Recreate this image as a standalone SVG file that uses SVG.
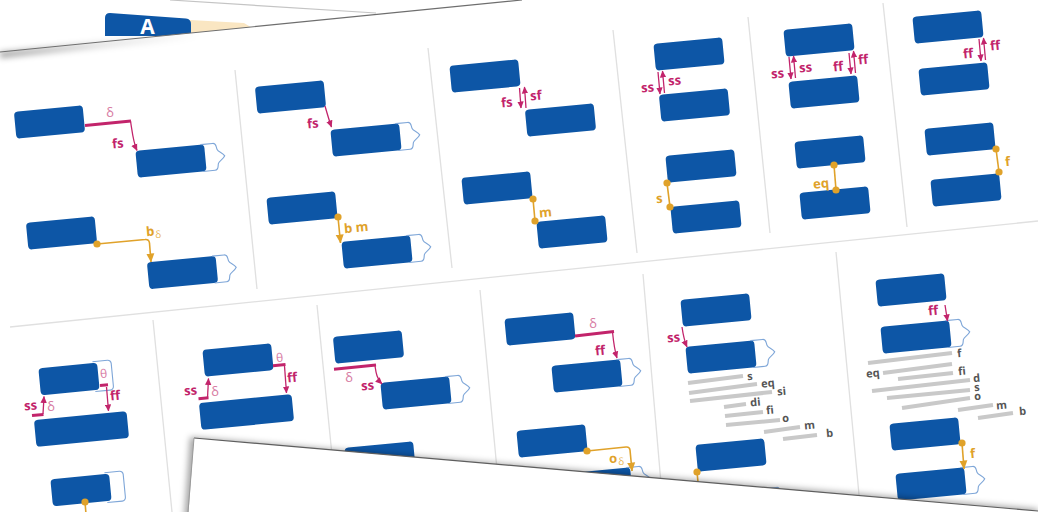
<svg xmlns="http://www.w3.org/2000/svg" xmlns:xlink="http://www.w3.org/1999/xlink" width="1038" height="512" viewBox="0 0 1038 512">
<style>
.bx{fill:#0D56A6}
.wv{fill:none;stroke:#7EA6D8;stroke-width:1.1}
.dv{stroke:#E0E0E0;stroke-width:1.3;fill:none}
.pk{stroke:#C2246B;stroke-width:1.3;fill:none}
.pk3{stroke:#C2246B;stroke-width:3;fill:none}
.gd{stroke:#E0A22A;stroke-width:1.6;fill:none}
.dot{fill:#E0A22A}
.bar{stroke:#C9C9C9;stroke-width:4;fill:none}
text{font-family:"Open Sans","Liberation Sans",sans-serif;transform-box:fill-box;transform-origin:center;transform:rotate(-5.5deg)}
.p{fill:#C2246B;font-size:13px;font-weight:700}
.dl{fill:#D77BA3;font-size:13px;font-weight:400}
.g{fill:#E0A22A;font-size:13px;font-weight:700}
.gs{fill:#E9B95C;font-size:10px;font-weight:400}
.k{fill:#555;font-size:11px;font-weight:700}
.tab{fill:#fff;font-size:21px;font-weight:700;transform:none}
</style>
<defs>
<rect id="b" x="-34.5" y="-13.5" width="69" height="27" rx="4"/>
<rect id="bs" x="-29.5" y="-13.5" width="59" height="27" rx="4"/>
<rect id="bw" x="-46.5" y="-13.5" width="93" height="27" rx="4"/>
<path id="wave" d="M31,-13.5 H43 c4,0 3,4 4,6.5 c1,2.5 5,3.5 7,7 c-2,3.5 -6,4.5 -7,7 c-1,2.5 0,6.5 -4,6.5 H31"/>
<path id="ox" d="M25,-15 H40 a3.5,3.5 0 0 1 3.5,3.5 V11.5 a3.5,3.5 0 0 1 -3.5,3.5 H25"/>
<marker id="ap" markerUnits="userSpaceOnUse" markerWidth="7" markerHeight="7" viewBox="0 0 7 7" refX="6.5" refY="3.5" orient="auto"><path d="M0,0.3 L7,3.5 L0,6.7z" fill="#C2246B"/></marker>
<marker id="ag" markerUnits="userSpaceOnUse" markerWidth="9" markerHeight="9" viewBox="0 0 9 9" refX="8.5" refY="4.5" orient="auto"><path d="M0,0.5 L9,4.5 L0,8.5z" fill="#E0A22A"/></marker>
<filter id="blur" x="-20%" y="-50%" width="140%" height="200%"><feGaussianBlur stdDeviation="3"/></filter>
<linearGradient id="edgeg" x1="0" y1="0" x2="1" y2="0"><stop offset="0" stop-color="#000" stop-opacity="0.45"/><stop offset="0.5" stop-color="#000" stop-opacity="0.15"/><stop offset="1" stop-color="#000" stop-opacity="0"/></linearGradient>
</defs>

<!-- background sheet with tab -->
<rect x="0" y="0" width="1038" height="512" fill="#FFFFFF"/>
<line x1="170" y1="0" x2="376" y2="13" stroke="#C4C4C4" stroke-width="1.2"/>
<g id="tab-a">
<path d="M190,20 L244,23 L254,29 L254,42 L190,42 Z" fill="#FAE6C2"/>
<path d="M110,13 L186,18.5 Q191,19 191,24 L191,36 L105,36 L105,18 Q105,13 110,13 Z" fill="#0D56A6"/>
<text class="tab" x="147.5" y="34" text-anchor="middle">A</text>
</g>

<!-- main sheet -->
<polygon points="0,52 522,0 1038,0 1038,512 0,512" fill="#FFFFFF"/>
<path d="M0,55 L200,35" stroke="url(#edgeg)" stroke-width="5" fill="none" filter="url(#blur)"/>
<line x1="0" y1="52" x2="522" y2="0" stroke="#6E6E6E" stroke-width="1.2"/>

<!-- dividers -->
<g id="dividers">
<line class="dv" x1="10" y1="327" x2="1038" y2="221"/>
<line class="dv" x1="235" y1="70" x2="257" y2="289"/>
<line class="dv" x1="428" y1="48" x2="452" y2="268"/>
<line class="dv" x1="613" y1="30" x2="637" y2="253"/>
<line class="dv" x1="748" y1="17" x2="770" y2="233"/>
<line class="dv" x1="883" y1="3" x2="907" y2="227"/>
<line class="dv" x1="153" y1="320" x2="172" y2="512"/>
<line class="dv" x1="317" y1="305" x2="333" y2="465"/>
<line class="dv" x1="480" y1="290" x2="498" y2="480"/>
<line class="dv" x1="643" y1="274" x2="662" y2="495"/>
<line class="dv" x1="836" y1="252" x2="860" y2="505"/>
</g>

<!-- nodes, strip 1 -->
<g id="B1"><use href="#b" class="bx" transform="translate(49.5 122) rotate(-5.5)"/></g>
<g id="B2"><use href="#b" class="bx" transform="translate(171 161) rotate(-5.5)"/><use href="#wave" class="wv" transform="translate(171 161) rotate(-5.5)"/></g>
<g id="B3"><use href="#b" class="bx" transform="translate(61.5 233) rotate(-5.5)"/></g>
<g id="B4"><use href="#b" class="bx" transform="translate(182.5 272.5) rotate(-5.5)"/><use href="#wave" class="wv" transform="translate(182.5 272.5) rotate(-5.5)"/></g>
<g id="C1"><use href="#b" class="bx" transform="translate(290.5 97) rotate(-5.5)"/></g>
<g id="C2"><use href="#b" class="bx" transform="translate(366 140) rotate(-5.5)"/><use href="#wave" class="wv" transform="translate(366 140) rotate(-5.5)"/></g>
<g id="C3"><use href="#b" class="bx" transform="translate(302 208) rotate(-5.5)"/></g>
<g id="C4"><use href="#b" class="bx" transform="translate(377 252) rotate(-5.5)"/><use href="#wave" class="wv" transform="translate(377 252) rotate(-5.5)"/></g>
<g id="D1"><use href="#b" class="bx" transform="translate(485 76) rotate(-5.5)"/></g>
<g id="D2"><use href="#b" class="bx" transform="translate(560.5 120) rotate(-5.5)"/></g>
<g id="D3"><use href="#b" class="bx" transform="translate(497 188) rotate(-5.5)"/></g>
<g id="D4"><use href="#b" class="bx" transform="translate(572 232) rotate(-5.5)"/></g>
<g id="E1"><use href="#b" class="bx" transform="translate(689 54) rotate(-5.5)"/></g>
<g id="E2"><use href="#b" class="bx" transform="translate(694.5 105) rotate(-5.5)"/></g>
<g id="E3"><use href="#b" class="bx" transform="translate(701 166) rotate(-5.5)"/></g>
<g id="E4"><use href="#b" class="bx" transform="translate(706 217) rotate(-5.5)"/></g>
<g id="F1"><use href="#b" class="bx" transform="translate(819 40) rotate(-5.5)"/></g>
<g id="F2"><use href="#b" class="bx" transform="translate(824 92) rotate(-5.5)"/></g>
<g id="F3"><use href="#b" class="bx" transform="translate(830 152) rotate(-5.5)"/></g>
<g id="F4"><use href="#b" class="bx" transform="translate(835 203) rotate(-5.5)"/></g>
<g id="G1"><use href="#b" class="bx" transform="translate(948 27) rotate(-5.5)"/></g>
<g id="G2"><use href="#b" class="bx" transform="translate(954 79) rotate(-5.5)"/></g>
<g id="G3"><use href="#b" class="bx" transform="translate(960 139) rotate(-5.5)"/></g>
<g id="G4"><use href="#b" class="bx" transform="translate(966 190) rotate(-5.5)"/></g>

<!-- nodes, strip 2 -->
<g id="H1"><use href="#bs" class="bx" transform="translate(69 379) rotate(-5.5)"/><use href="#ox" class="wv" transform="translate(69 379) rotate(-5.5)"/></g>
<g id="H2"><use href="#bw" class="bx" transform="translate(81.5 429) rotate(-5.5)"/></g>
<g id="H3"><use href="#bs" class="bx" transform="translate(81 490) rotate(-5.5)"/><use href="#ox" class="wv" transform="translate(81 490) rotate(-5.5)"/></g>
<g id="I1"><use href="#b" class="bx" transform="translate(238 360) rotate(-5.5)"/></g>
<g id="I2"><use href="#bw" class="bx" transform="translate(246.5 412) rotate(-5.5)"/></g>
<g id="J1"><use href="#b" class="bx" transform="translate(368.5 347) rotate(-5.5)"/></g>
<g id="J2"><use href="#b" class="bx" transform="translate(416 393) rotate(-5.5)"/><use href="#wave" class="wv" transform="translate(416 393) rotate(-5.5)"/></g>
<g id="J3"><use href="#b" class="bx" transform="translate(380 458) rotate(-5.5)"/></g>
<g id="K1"><use href="#b" class="bx" transform="translate(540 329) rotate(-5.5)"/></g>
<g id="K2"><use href="#b" class="bx" transform="translate(587 376) rotate(-5.5)"/><use href="#wave" class="wv" transform="translate(587 376) rotate(-5.5)"/></g>
<g id="K3"><use href="#b" class="bx" transform="translate(552 441) rotate(-5.5)"/></g>
<g id="K4"><use href="#b" class="bx" transform="translate(597 484) rotate(-5.5)"/><use href="#wave" class="wv" transform="translate(597 484) rotate(-5.5)"/></g>
<g id="L1"><use href="#b" class="bx" transform="translate(716 310) rotate(-5.5)"/></g>
<g id="L2"><use href="#b" class="bx" transform="translate(721 357) rotate(-5.5)"/><use href="#wave" class="wv" transform="translate(721 357) rotate(-5.5)"/></g>
<g id="L3"><use href="#b" class="bx" transform="translate(731 455) rotate(-5.5)"/></g>
<g id="L4"><use href="#b" class="bx" transform="translate(735 505) rotate(-5.5)"/><use href="#wave" class="wv" transform="translate(735 505) rotate(-5.5)"/></g>
<g id="M1"><use href="#b" class="bx" transform="translate(911 290) rotate(-5.5)"/></g>
<g id="M2"><use href="#b" class="bx" transform="translate(916 337) rotate(-5.5)"/><use href="#wave" class="wv" transform="translate(916 337) rotate(-5.5)"/></g>
<g id="M3"><use href="#b" class="bx" transform="translate(925 434) rotate(-5.5)"/></g>
<g id="M4"><use href="#b" class="bx" transform="translate(931 484) rotate(-5.5)"/><use href="#wave" class="wv" transform="translate(931 484) rotate(-5.5)"/></g>

<!-- connectors -->
<g id="connectors">
<line class="pk3" x1="85" y1="125.5" x2="131" y2="121"/>
<path class="pk" d="M130.5,121 C132,130 133,142 137,150.5" marker-end="url(#ap)"/>
<circle class="dot" cx="97" cy="244" r="3.6"/>
<path class="gd" d="M97,244 L145,239.5 Q149,239 149.5,243 L151,262" marker-end="url(#ag)"/>
<path class="pk" d="M325,106 C327,113 329,120 331.5,127" marker-end="url(#ap)"/>
<circle class="dot" cx="338" cy="217" r="3.6"/>
<path class="gd" d="M338,217 L340.5,243" marker-end="url(#ag)"/>
<path class="pk" d="M519.5,88 L521,108" marker-end="url(#ap)"/>
<path class="pk" d="M526,108 L524.5,87" marker-end="url(#ap)"/>
<path class="gd" d="M533,199 L535,221"/>
<circle class="dot" cx="533" cy="199" r="3.6"/>
<circle class="dot" cx="535" cy="221" r="3.6"/>
<path class="pk" d="M658,72 L660,94" marker-end="url(#ap)"/>
<path class="pk" d="M664.5,93 L662.5,71" marker-end="url(#ap)"/>
<path class="gd" d="M667,183 L670,207"/>
<circle class="dot" cx="667" cy="183" r="3.6"/>
<circle class="dot" cx="670" cy="207" r="3.6"/>
<path class="pk" d="M789,57 L791,79" marker-end="url(#ap)"/>
<path class="pk" d="M795.5,78 L793.5,56" marker-end="url(#ap)"/>
<path class="pk" d="M849,53 L851,74" marker-end="url(#ap)"/>
<path class="pk" d="M855.5,73 L853.5,51" marker-end="url(#ap)"/>
<path class="gd" d="M834,165 L836,190"/>
<circle class="dot" cx="834" cy="165" r="3.6"/>
<circle class="dot" cx="836" cy="190" r="3.6"/>
<path class="pk" d="M979,39 L981,61" marker-end="url(#ap)"/>
<path class="pk" d="M985.5,60 L983.5,38" marker-end="url(#ap)"/>
<path class="gd" d="M996,149 L999,172"/>
<circle class="dot" cx="996" cy="149" r="3.6"/>
<circle class="dot" cx="999" cy="172" r="3.6"/>
<line class="pk3" x1="100" y1="385.6" x2="108" y2="384.8"/>
<path class="pk" d="M106.5,387 L108.5,411" marker-end="url(#ap)"/>
<line class="pk3" x1="32" y1="415.6" x2="43.5" y2="414.5"/>
<path class="pk" d="M43,414 L44,396.5" marker-end="url(#ap)"/>
<path class="gd" d="M85,502 L86,514"/>
<circle class="dot" cx="85" cy="502" r="3.6"/>
<line class="pk3" x1="273" y1="365.7" x2="285.5" y2="364.5"/>
<path class="pk" d="M284.5,366 L286.5,393" marker-end="url(#ap)"/>
<line class="pk3" x1="198.5" y1="398.8" x2="208.5" y2="397.8"/>
<path class="pk" d="M207.5,398 L208.5,378.5" marker-end="url(#ap)"/>
<line class="pk3" x1="334" y1="369.2" x2="376" y2="365"/>
<path class="pk" d="M375,366 C376,373 377,379 382,384" marker-end="url(#ap)"/>
<line class="pk3" x1="575" y1="336" x2="614" y2="331.5"/>
<path class="pk" d="M612.5,332 C613.5,342 614.5,350 617,358" marker-end="url(#ap)"/>
<circle class="dot" cx="587" cy="451" r="3.6"/>
<path class="gd" d="M587,451 L626,447 Q629.5,446.6 630,450 L632,471" marker-end="url(#ag)"/>
<path class="pk" d="M682,327 C683,334 684,340 687,347" marker-end="url(#ap)"/>
<path class="gd" d="M697,472 L699,492"/>
<circle class="dot" cx="697" cy="472" r="3.6"/>
<path class="pk" d="M945,305 L947.5,321" marker-end="url(#ap)"/>
<circle class="dot" cx="962" cy="443" r="3.6"/>
<path class="gd" d="M962,443 L964,469" marker-end="url(#ag)"/>
</g>

<!-- bars -->
<g id="bars">
<line class="bar" x1="688" y1="383" x2="743" y2="376"/>
<line class="bar" x1="689" y1="393" x2="757" y2="384"/>
<line class="bar" x1="690" y1="401" x2="772" y2="392"/>
<line class="bar" x1="724" y1="407" x2="746" y2="404"/>
<line class="bar" x1="725" y1="416" x2="763" y2="412"/>
<line class="bar" x1="726" y1="425" x2="780" y2="420"/>
<line class="bar" x1="764" y1="432" x2="800" y2="427"/>
<line class="bar" x1="783" y1="439" x2="817" y2="435"/>
<line class="bar" x1="868" y1="363" x2="952" y2="353"/>
<line class="bar" x1="883" y1="373" x2="952" y2="364"/>
<line class="bar" x1="898" y1="379" x2="953" y2="373"/>
<line class="bar" x1="872" y1="391" x2="970" y2="380"/>
<line class="bar" x1="887" y1="398" x2="970" y2="390"/>
<line class="bar" x1="902" y1="408" x2="970" y2="398"/>
<line class="bar" x1="958" y1="410" x2="993" y2="405"/>
<line class="bar" x1="978" y1="418" x2="1013" y2="413"/>
</g>

<!-- labels -->
<g id="labels">
<text class="dl" x="106" y="117">δ</text>
<text class="p" x="112" y="148">fs</text>
<text class="g" x="146" y="236">b</text><text class="gs" x="155" y="238">δ</text>
<text class="p" x="307" y="128">fs</text>
<text class="g" x="344" y="232">b m</text>
<text class="p" x="501" y="107">fs</text>
<text class="p" x="530" y="100">sf</text>
<text class="g" x="539" y="217">m</text>
<text class="p" x="641" y="92">ss</text>
<text class="p" x="668" y="85">ss</text>
<text class="g" x="656" y="203">s</text>
<text class="p" x="771" y="78">ss</text>
<text class="p" x="799" y="72">ss</text>
<text class="p" x="833" y="71">ff</text>
<text class="p" x="858" y="64">ff</text>
<text class="g" x="813" y="188">eq</text>
<text class="p" x="963" y="58">ff</text>
<text class="p" x="990" y="50">ff</text>
<text class="g" x="1005" y="166">f</text>

<text class="dl" x="100" y="378" style="font-size:12px">θ</text>
<text class="p" x="110" y="400">ff</text>
<text class="p" x="24" y="410">ss</text>
<text class="dl" x="47" y="411">δ</text>
<text class="dl" x="276" y="362" style="font-size:12px">θ</text>
<text class="p" x="287" y="382">ff</text>
<text class="p" x="184" y="395">ss</text>
<text class="dl" x="211" y="396">δ</text>
<text class="dl" x="345" y="382">δ</text>
<text class="p" x="361" y="390">ss</text>
<text class="dl" x="589" y="328">δ</text>
<text class="p" x="595" y="355">ff</text>
<text class="g" x="609" y="463">o</text><text class="gs" x="618" y="465">δ</text>
<text class="p" x="667" y="342">ss</text>
<text class="p" x="928" y="315">ff</text>
<text class="g" x="970" y="458">f</text>

<text class="k" x="747" y="380">s</text>
<text class="k" x="761" y="387">eq</text>
<text class="k" x="777" y="395">si</text>
<text class="k" x="750" y="406">di</text>
<text class="k" x="766" y="414">fi</text>
<text class="k" x="782" y="422">o</text>
<text class="k" x="804" y="429">m</text>
<text class="k" x="826" y="437">b</text>
<text class="k" x="957" y="357">f</text>
<text class="k" x="866" y="377">eq</text>
<text class="k" x="958" y="375">fi</text>
<text class="k" x="973" y="382">d</text>
<text class="k" x="974" y="391">s</text>
<text class="k" x="974" y="400">o</text>
<text class="k" x="996" y="409">m</text>
<text class="k" x="1019" y="415">b</text>
</g>

<!-- overlapping bottom sheet -->
<g id="bottom-sheet">
<polygon points="190,437 1038,509 1038,520 184,520" fill="#000" fill-opacity="0.35" filter="url(#blur)"/>
<polygon points="194,438 1038,511 1038,520 188,520" fill="#FFFFFF"/>
<line x1="194" y1="438" x2="1038" y2="511" stroke="#5E5E5E" stroke-width="1.2"/>
<line x1="194" y1="438" x2="188" y2="512" stroke="#9A9A9A" stroke-width="1"/>
</g>
</svg>
